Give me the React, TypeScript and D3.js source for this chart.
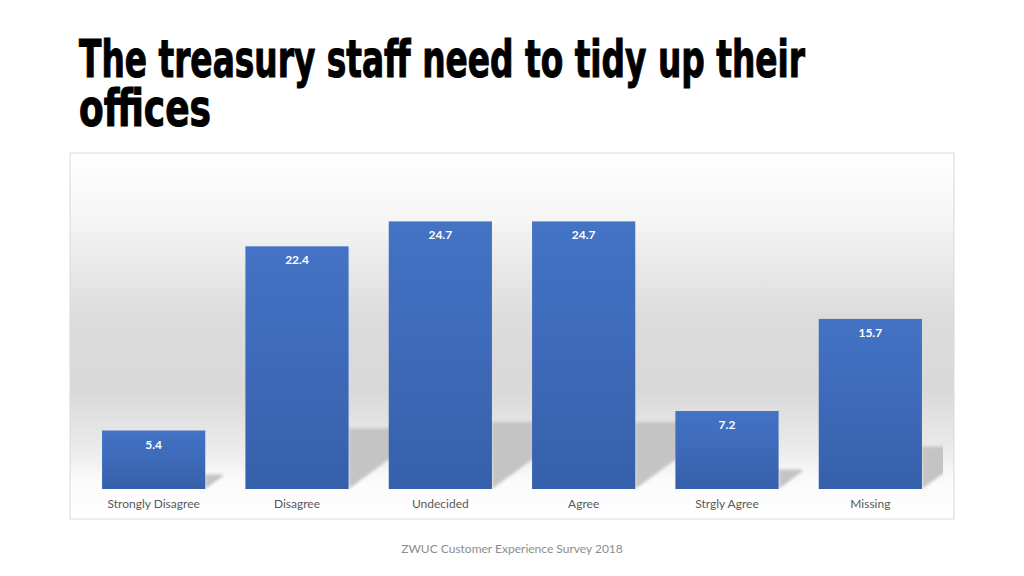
import { useEffect, useRef } from "react";
import * as d3 from "d3";

const categories = [
  "Strongly Disagree",
  "Disagree",
  "Undecided",
  "Agree",
  "Strgly Agree",
  "Missing",
];
const values = [5.4, 22.4, 24.7, 24.7, 7.2, 15.7];
const titleLines = ["The treasury staff need to tidy up their", "offices"];
const footerText = "ZWUC Customer Experience Survey 2018";

const WIDTH = 1024;
const HEIGHT = 576;
const FONT = "Lato, 'Open Sans', sans-serif";

export default function App() {
  const svgRef = useRef<SVGSVGElement>(null);

  useEffect(() => {
    if (!svgRef.current) return;
    const svg = d3.select(svgRef.current);
    svg.selectAll("*").remove();

    const box = { x: 70, y: 153, w: 884, h: 366 };
    const baseline = 489;

    const defs = svg.append("defs");

    // wall / floor gradient of the plot area
    const bg = defs
      .append("linearGradient")
      .attr("id", "bg")
      .attr("x1", 0)
      .attr("y1", 0)
      .attr("x2", 0)
      .attr("y2", 1);
    [
      [0, "#ffffff"],
      [0.18, "#f5f5f5"],
      [0.45, "#dcdcdc"],
      [0.65, "#d9d9d9"],
      [0.8, "#eaeaea"],
      [0.9, "#fbfbfb"],
      [1, "#ffffff"],
    ].forEach(([o, c]) =>
      bg.append("stop").attr("offset", o as number).attr("stop-color", c as string),
    );

    const barGrad = defs
      .append("linearGradient")
      .attr("id", "bar")
      .attr("x1", 0)
      .attr("y1", 0)
      .attr("x2", 0)
      .attr("y2", 1);
    barGrad.append("stop").attr("offset", 0).attr("stop-color", "#4473c5");
    barGrad.append("stop").attr("offset", 1).attr("stop-color", "#3660ab");

    defs
      .append("filter")
      .attr("id", "blur")
      .append("feGaussianBlur")
      .attr("stdDeviation", 1.4);

    defs
      .append("clipPath")
      .attr("id", "plotClip")
      .append("rect")
      .attr("x", box.x)
      .attr("y", box.y)
      .attr("width", 943 - box.x)
      .attr("height", box.h);

    // title: narrow heavy face, stretched vertically, one text with two lines
    const title = svg
      .append("text")
      .attr("transform", "translate(79,77) scale(1,1.3)")
      .attr("font-family", "'DejaVu Sans Condensed', 'Liberation Sans', sans-serif")
      .attr("font-weight", "bold")
      .attr("font-size", 40)
      .attr("fill", "#000")
      .attr("stroke", "#000")
      .attr("stroke-width", 0.8);
    titleLines.forEach((line, i) => {
      title
        .append("tspan")
        .attr("x", 0)
        .attr("y", (i * 49) / 1.3)
        .attr("textLength", i === 0 ? 726 : 132)
        .attr("lengthAdjust", "spacingAndGlyphs")
        .text(line);
    });

    // plot area
    svg
      .append("rect")
      .attr("x", box.x)
      .attr("y", box.y)
      .attr("width", box.w)
      .attr("height", box.h)
      .attr("fill", "url(#bg)")
      .attr("stroke", "#d9d9d9")
      .attr("stroke-width", 1);

    const x = d3.scaleBand().domain(categories).range([82, 942]).paddingInner(0.28).paddingOuter(0.14);
    const y = d3.scaleLinear().domain([0, 30]).range([baseline, 164]);

    // shadows cast to the right of each bar
    const shadows = svg.append("g").attr("clip-path", "url(#plotClip)");
    categories.forEach((c, i) => {
      const xr = (x(c) ?? 0) + x.bandwidth();
      const bh = baseline - y(values[i]);
      const h = bh * 0.25;
      const w = bh * 0.3;
      const pts = [
        [xr, baseline - h],
        [xr + w, baseline - h],
        [xr + w, baseline - h * 0.88],
        [xr, baseline],
      ];
      shadows
        .append("polygon")
        .attr("points", pts.map((p) => p.join(",")).join(" "))
        .attr("fill", "#c4c4c4")
        .attr("filter", "url(#blur)");
    });

    // bars
    svg
      .append("g")
      .selectAll("rect")
      .data(values)
      .join("rect")
      .attr("x", (_, i) => x(categories[i]) ?? 0)
      .attr("y", (d) => y(d))
      .attr("width", x.bandwidth())
      .attr("height", (d) => baseline - y(d))
      .attr("fill", "url(#bar)");

    // value labels
    svg
      .append("g")
      .selectAll("text")
      .data(values)
      .join("text")
      .attr("x", (_, i) => (x(categories[i]) ?? 0) + x.bandwidth() / 2)
      .attr("y", (d) => y(d) + 18)
      .attr("text-anchor", "middle")
      .attr("font-family", FONT)
      .attr("font-weight", "bold")
      .attr("font-size", 12)
      .attr("fill", "#ffffff")
      .text((d) => d.toFixed(1));

    // category axis labels
    const axis = d3.axisBottom(x).tickSize(0).tickPadding(10);
    const ag = svg.append("g").attr("transform", `translate(0,${baseline})`).call(axis);
    ag.select(".domain").remove();
    ag.selectAll("text")
      .attr("font-family", FONT)
      .attr("font-size", 12)
      .attr("fill", "#595959");

    // footer
    svg
      .append("text")
      .attr("x", 512)
      .attr("y", 553)
      .attr("text-anchor", "middle")
      .attr("font-family", FONT)
      .attr("font-size", 12)
      .attr("fill", "#8c8c8c")
      .text(footerText);
  }, []);

  return (
    <svg
      ref={svgRef}
      width={WIDTH}
      height={HEIGHT}
      viewBox={`0 0 ${WIDTH} ${HEIGHT}`}
      style={{ position: "absolute", left: 0, top: 0, background: "#fff" }}
    ></svg>
  );
}
